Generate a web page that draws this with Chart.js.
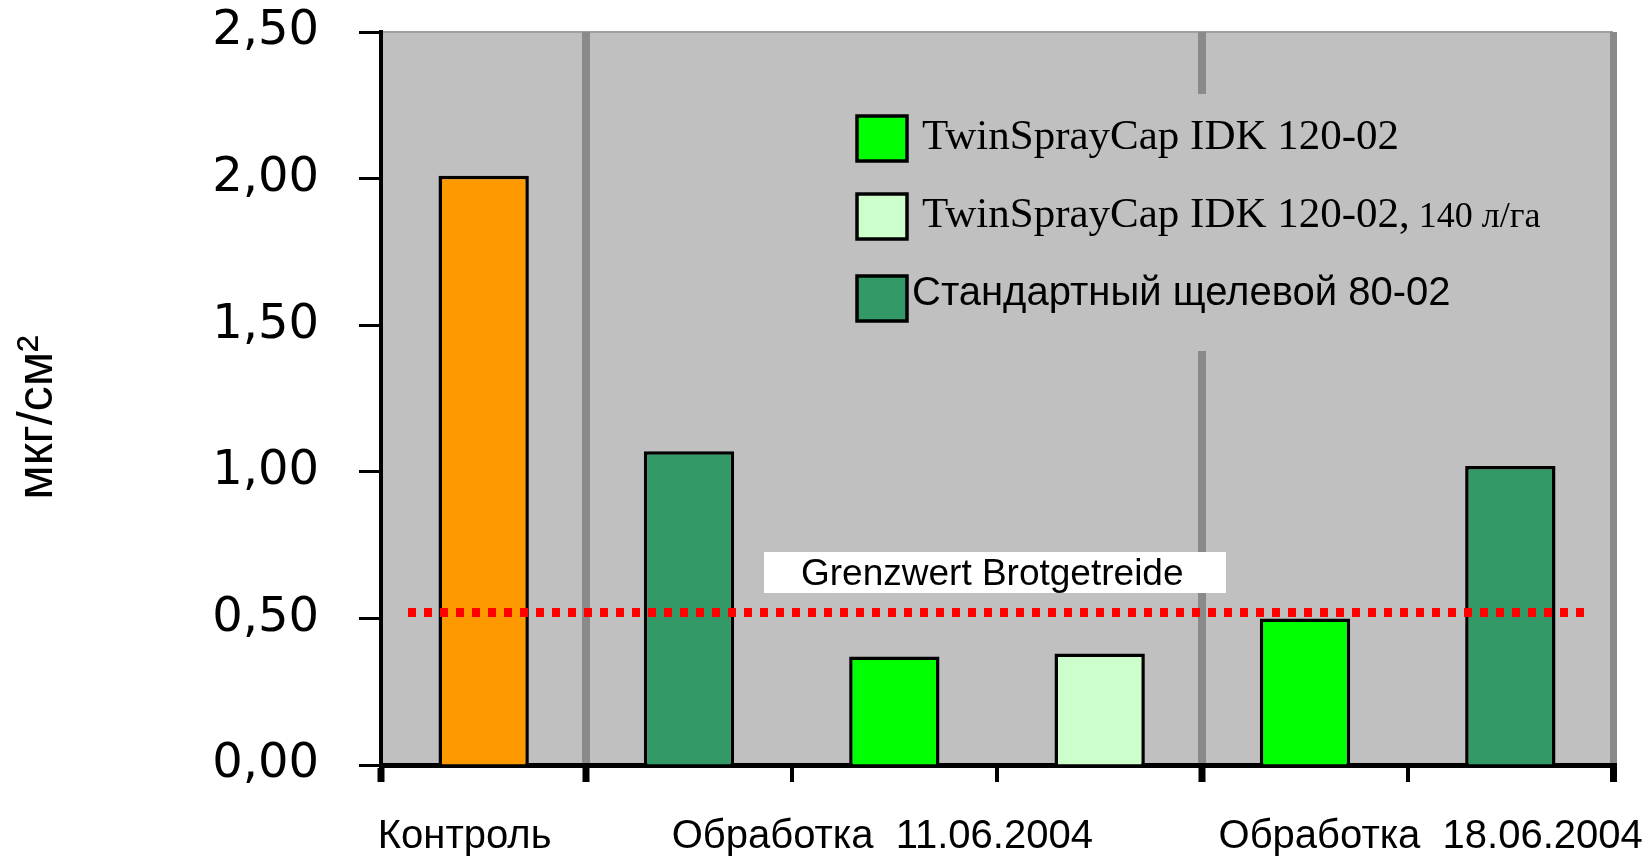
<!DOCTYPE html>
<html>
<head>
<meta charset="utf-8">
<script src="https://cdn.jsdelivr.net/npm/chart.js@4.4.1/dist/chart.umd.min.js"></script>
<style>
html,body{margin:0;padding:0;background:#fff;}
#wrap{width:1649px;height:856px;position:relative;}
</style>
</head>
<body>
<div id="wrap"><canvas id="c" width="1649" height="856"></canvas></div>
<script>
// ---- data ----
const categories = ['Контроль', 'Стандарт 11.06', 'IDK 11.06', 'IDK 140 л/га 11.06', 'IDK 18.06', 'Стандарт 18.06'];
const controlValues  = [2.01, null, null, null, null, null];
const idkValues      = [null, null, 0.37, null, 0.50, null];
const idk140Values   = [null, null, null, 0.38, null, null];
const standardValues = [null, 1.07, null, null, null, 1.02];
const seriesLabels = ['TwinSprayCap IDK 120-02', 'TwinSprayCap IDK 120-02, 140 л/га', 'Стандартный щелевой 80-02'];
const controlLabel = 'Контроль';
const yTicks = [0, 0.5, 1.0, 1.5, 2.0, 2.5];
const groupLabels = ['Контроль', 'Обработка  11.06.2004', 'Обработка  18.06.2004'];
const groupStarts = [0, 1, 4];
const groupEnds   = [0, 3, 5];
const limitValue = 0.52;
const limitLabel = 'Grenzwert Brotgetreide';
const yTitle = 'мкг/см²';

// ---- styles ----
const colors = { control: '#FF9900', idk: '#00FF00', idk140: '#CCFFCC', standard: '#339966' };
const groupLabelShift = [-19, -12, 23];
const dividerSet = new Set(groupStarts.filter(i => i > 0));

const barCommon = { borderColor: '#000', borderWidth: 3.5, grouped: false, barPercentage: 0.44, categoryPercentage: 1.0 };

const overlay = {
  id: 'overlay',
  beforeDraw(chart) {
    const { ctx, chartArea: a } = chart;
    ctx.save();
    ctx.fillStyle = '#C0C0C0';
    ctx.fillRect(a.left, a.top, a.right - a.left, a.bottom - a.top);
    ctx.strokeStyle = '#a0a0a0';
    ctx.lineWidth = 2;
    ctx.beginPath(); ctx.moveTo(a.left, a.top); ctx.lineTo(a.right, a.top); ctx.stroke();
    ctx.restore();
  },
  afterDraw(chart) {
    const { ctx, chartArea: a } = chart;
    const xs = chart.scales.x, ys = chart.scales.y;
    ctx.save();

    // legend background (covers divider)
    ctx.fillStyle = '#C0C0C0';
    ctx.fillRect(840, 94, 750, 257);

    // legend items
    const legendDs = chart.data.datasets.filter(d => d.inLegend);
    const rowsTop = [116, 194, 276];
    const rowsBase = [149, 227, 305];
    const textX = [922, 922, 912];
    legendDs.forEach((d, i) => {
      ctx.fillStyle = d.backgroundColor;
      ctx.fillRect(857, rowsTop[i], 50, 45);
      ctx.strokeStyle = '#000';
      ctx.lineWidth = 3.5;
      ctx.strokeRect(857, rowsTop[i], 50, 45);
      ctx.fillStyle = '#000';
      ctx.textAlign = 'left';
      ctx.textBaseline = 'alphabetic';
      if (i < 2) {
        const lbl = d.label;
        const cut = lbl.indexOf(', ');
        ctx.font = '43px "Liberation Serif"';
        if (cut >= 0) {
          const head = lbl.slice(0, cut + 1);
          const tail = lbl.slice(cut + 1);
          ctx.fillText(head, textX[i], rowsBase[i]);
          const w = ctx.measureText(head).width;
          ctx.font = '36px "Liberation Serif"';
          ctx.fillText(tail, textX[i] + w, rowsBase[i]);
        } else {
          ctx.fillText(lbl, textX[i], rowsBase[i]);
        }
      } else {
        ctx.font = '40px "Liberation Sans"';
        ctx.fillText(d.label, textX[i], rowsBase[i]);
      }
    });

    // limit label box
    ctx.fillStyle = '#FFFFFF';
    ctx.fillRect(764, 552, 462, 41);
    ctx.fillStyle = '#000';
    ctx.font = '37px "Liberation Sans"';
    ctx.textAlign = 'left';
    ctx.fillText(limitLabel, 801, 585);

    // limit line
    const ly = ys.getPixelForValue(limitValue);
    ctx.strokeStyle = '#FF0000';
    ctx.lineWidth = 9;
    ctx.lineCap = 'butt';
    ctx.setLineDash([8, 8]);
    ctx.beginPath(); ctx.moveTo(a.left + 27, ly); ctx.lineTo(a.right - 25, ly); ctx.stroke();
    ctx.setLineDash([]);

    // group labels
    ctx.fillStyle = '#000';
    ctx.font = '40px "Liberation Sans"';
    ctx.textAlign = 'center';
    groupLabels.forEach((g, i) => {
      const cx = (xs.getPixelForValue(groupStarts[i]) + xs.getPixelForValue(groupEnds[i])) / 2;
      ctx.fillText(g, cx + groupLabelShift[i], 848);
    });

    // y title
    ctx.translate(52, (a.top + a.bottom) / 2 + 19);
    ctx.rotate(-Math.PI / 2);
    ctx.font = '50px "Liberation Sans"';
    ctx.textAlign = 'center';
    ctx.fillText(yTitle, 0, 0);
    ctx.restore();
  }
};

new Chart(document.getElementById('c'), {
  type: 'bar',
  data: {
    labels: categories,
    datasets: [
      { ...barCommon, label: controlLabel, data: controlValues, backgroundColor: colors.control, inLegend: false },
      { ...barCommon, label: seriesLabels[0], data: idkValues, backgroundColor: colors.idk, inLegend: true },
      { ...barCommon, label: seriesLabels[1], data: idk140Values, backgroundColor: colors.idk140, inLegend: true },
      { ...barCommon, label: seriesLabels[2], data: standardValues, backgroundColor: colors.standard, inLegend: true }
    ]
  },
  options: {
    responsive: false,
    animation: false,
    layout: { padding: { top: 32, right: 36, left: 0, bottom: 0 } },
    plugins: { legend: { display: false }, tooltip: { enabled: false } },
    scales: {
      x: {
        offset: true,
        z: 1,
        afterFit: s => { s.height = 91; s.paddingLeft = 0; s.paddingRight = 0; },
        ticks: { display: false },
        grid: {
          offset: true,
          drawOnChartArea: true,
          color: c => (c.index === undefined || dividerSet.has(c.index)) ? '#8a8a8a' : 'rgba(0,0,0,0)',
          lineWidth: c => c.index === undefined ? 7 : 8,
          tickColor: '#000',
          tickWidth: c => (c.index === undefined || c.index === 0 || dividerSet.has(c.index)) ? 7 : 4,
          tickLength: 17
        },
        border: { display: true, color: '#000', width: 5 }
      },
      y: {
        min: 0,
        max: 2.5,
        afterFit: s => { s.width = 381; s.paddingTop = 0; s.paddingBottom = 0; },
        afterBuildTicks: s => { s.ticks = yTicks.map(v => ({ value: v })); },
        grid: { drawOnChartArea: false, tickLength: 22, tickColor: '#000', tickWidth: 3 },
        border: { display: true, color: '#000', width: 4 },
        ticks: {
          padding: 40,
          color: '#000',
          font: { family: 'DejaVu Sans', size: 48 },
          callback: v => Number(v).toFixed(2).replace('.', ',')
        }
      }
    }
  },
  plugins: [overlay]
});
</script>
</body>
</html>
